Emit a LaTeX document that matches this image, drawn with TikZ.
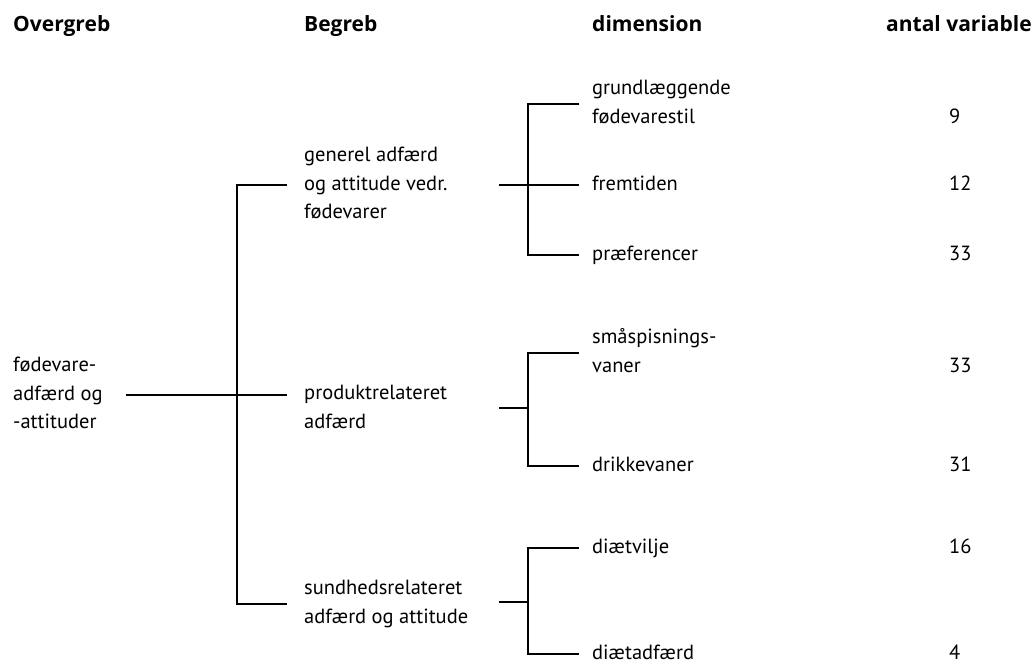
\documentclass[tikz,border=0pt]{standalone}
\usepackage{fontspec}
\setmainfont{PT Sans}
\newfontfamily\hdrfont{Open Sans}
\usetikzlibrary{calc}
\newcommand\lst{\rule[-7pt]{0pt}{24pt}}
\begin{document}
\begin{tikzpicture}[x=1pt,y=-1pt,
  lbl/.style={anchor=west,inner sep=0pt,align=left,font=\fontsize{20.5}{28.5}\selectfont},
  hdr/.style={anchor=west,inner sep=0pt,font=\hdrfont\fontsize{21}{24}\selectfont\bfseries},
  conn/.style={line width=1.8pt,line join=miter}]
\useasboundingbox (0,0) rectangle (1032,666);
\clip (0,0) rectangle (1032,666);
\node[hdr] (h1) at (13,27) {\lst Overgreb};
\node[hdr] (h2) at (304,27) {\lst Begreb};
\node[hdr] (h3) at (592,27) {\lst dimension};
\node[hdr] (h4) at (886,27) {\lst antal variable};
\node[lbl] (root) at (13,395) {\lst fødevare-\\\lst adfærd og\\\lst -attituder};
\node[lbl] (b1) at (304,185) {\lst generel adfærd\\\lst og attitude vedr.\\\lst fødevarer};
\node[lbl] (b2) at (304,409) {\lst produktrelateret\\\lst adfærd};
\node[lbl] (b3) at (304,604) {\lst sundhedsrelateret\\\lst adfærd og attitude};
\node[lbl] (d1) at (592,104) {\lst grundlæggende\\\lst fødevarestil};
\node[lbl] (d2) at (592,185) {\lst fremtiden};
\node[lbl] (d3) at (592,255) {\lst præferencer};
\node[lbl] (d4) at (592,353) {\lst småspisnings-\\\lst vaner};
\node[lbl] (d5) at (592,466) {\lst drikkevaner};
\node[lbl] (d6) at (592,548) {\lst diætvilje};
\node[lbl] (d7) at (592,654) {\lst diætadfærd};
\node[lbl] (n1) at (949,118) {\lst 9};
\node[lbl] (n2) at (949,185) {\lst 12};
\node[lbl] (n3) at (949,255) {\lst 33};
\node[lbl] (n4) at (949,367) {\lst 33};
\node[lbl] (n5) at (949,466) {\lst 31};
\node[lbl] (n6) at (949,548) {\lst 16};
\node[lbl] (n7) at (949,654) {\lst 4};
\coordinate (L1) at (237,0);
\coordinate (L2) at (528,0);
\coordinate (m0) at (126,395);
\coordinate (s1) at (499,185);
\coordinate (s2) at (499,408);
\coordinate (s3) at (499,602);
\draw[conn] (m0) -- ([xshift=-17pt]b2.west |- m0);
\draw[conn] ([xshift=-17pt]b1.west) -- (b1.west -| L1) -- (b3.west -| L1) -- ([xshift=-17pt]b3.west);
\draw[conn] ([xshift=-13pt]d1.west) -- (d1.west -| L2) -- (d3.west -| L2) -- ([xshift=-13pt]d3.west);
\draw[conn] (s1) -- ([xshift=-13pt]d2.west);
\draw[conn] ([xshift=-13pt]d4.west) -- (d4.west -| L2) -- (d5.west -| L2) -- ([xshift=-13pt]d5.west);
\draw[conn] (s2) -- (s2 -| L2);
\draw[conn] ([xshift=-13pt]d6.west) -- (d6.west -| L2) -- (d7.west -| L2) -- ([xshift=-13pt]d7.west);
\draw[conn] (s3) -- (s3 -| L2);
\end{tikzpicture}
\end{document}
